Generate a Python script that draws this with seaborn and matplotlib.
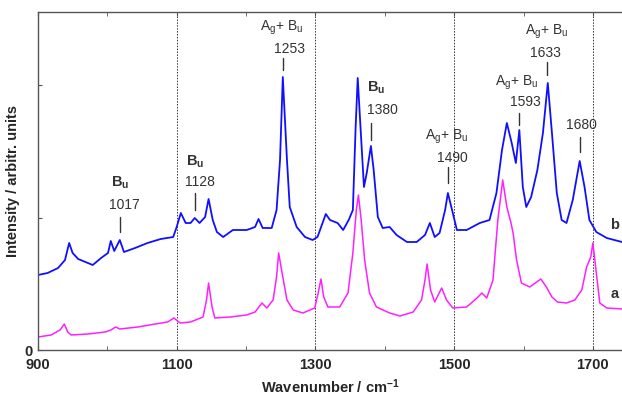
import matplotlib
matplotlib.use("Agg")
import matplotlib.pyplot as plt
import seaborn as sns
import pandas as pd
from matplotlib.ticker import MultipleLocator

# ---- data ----
wn_b = [900, 914, 929, 939, 945, 950, 958, 972, 979, 991, 1001, 1005, 1010, 1018, 1024,
        1040, 1058, 1077, 1095, 1100, 1106, 1113, 1120, 1126, 1133, 1141, 1146, 1152, 1158,
        1167, 1181, 1201, 1213, 1218, 1224, 1237, 1244, 1249, 1253, 1259, 1263, 1273, 1285,
        1296, 1303, 1315, 1321, 1332, 1340, 1348, 1354, 1358, 1361, 1365, 1370, 1374, 1380,
        1384, 1390, 1397, 1407, 1417, 1432, 1446, 1458, 1465, 1472, 1479, 1487, 1491, 1497,
        1504, 1518, 1537, 1551, 1561, 1569, 1576, 1583, 1589, 1594, 1599, 1604, 1611, 1620,
        1628, 1635, 1641, 1648, 1655, 1662, 1671, 1681, 1688, 1695, 1705, 1720, 1742]
int_b = [75, 77, 82, 90, 107, 97, 91, 87, 85, 92, 97, 109, 99, 110, 98,
         102, 107, 111, 113, 123, 137, 127, 127, 132, 127, 133, 151, 130, 118,
         113, 120, 120, 123, 131, 122, 122, 140, 190, 273, 190, 143, 123, 113,
         110, 113, 136, 130, 127, 120, 130, 140, 223, 272, 223, 163, 177, 204,
         180, 133, 122, 123, 115, 108, 108, 115, 127, 113, 117, 140, 157, 140,
         120, 120, 127, 130, 157, 200, 227, 207, 187, 220, 163, 143, 153, 180,
         217, 267, 217, 157, 130, 127, 150, 189, 163, 130, 118, 112, 108]

wn_a = [900, 919, 932, 938, 943, 948, 972, 997, 1005, 1012, 1018, 1044, 1069, 1087, 1096,
        1105, 1120, 1138, 1143, 1146, 1151, 1155, 1177, 1201, 1213, 1223, 1230, 1239, 1244,
        1247, 1253, 1259, 1268, 1282, 1299, 1304, 1308, 1312, 1318, 1335, 1347, 1354, 1359,
        1362, 1366, 1371, 1378, 1388, 1407, 1422, 1441, 1453, 1458, 1461, 1466, 1472, 1482,
        1489, 1498, 1518, 1533, 1540, 1547, 1556, 1563, 1570, 1576, 1582, 1585, 1590, 1597,
        1609, 1625, 1633, 1641, 1649, 1662, 1674, 1684, 1691, 1697, 1700, 1705, 1710, 1720, 1742]
int_a = [13, 15, 20, 26, 18, 15, 16, 18, 20, 23, 21, 23, 26, 28, 32,
         27, 28, 33, 50, 67, 43, 32, 33, 35, 38, 47, 42, 50, 73,
         97, 73, 50, 40, 37, 42, 57, 71, 53, 43, 43, 57, 97, 140,
         155, 130, 90, 57, 43, 37, 34, 38, 50, 70, 86, 60, 48, 62,
         50, 42, 43, 52, 57, 52, 70, 130, 170, 143, 127, 117, 90, 67,
         63, 71, 63, 53, 48, 47, 50, 60, 83, 93, 107, 77, 47, 42, 41]

# peak labels
peak_num = ["1017", "1128", "1253", "1380", "1490", "1593", "1633", "1680"]
peak_sym = ["Bu", "Bu", "AgBu", "Bu", "AgBu", "AgBu", "AgBu", ""]
series_labels = ["b", "a"]

x_ticks = [900, 1100, 1300, 1500, 1700]

# label placement (tick x, tick bottom, tick top, number x, number y, symbol x, symbol y)
label_pos = [
    (1018, 118, 133, 1025, 145, 1018, 167),
    (1126, 140, 157, 1133, 168, 1126, 188),
    (1254, 280, 292, 1262, 301, 1252, 322),
    (1380, 210, 227, 1397, 240, 1388, 262),
    (1491, 167, 183, 1498, 192, 1489, 213),
    (1594, 225, 237, 1602, 248, 1590, 267),
    (1634, 275, 288, 1632, 297, 1633, 318),
    (1681, 198, 213, 1684, 225, 1684, 0),
]
series_label_pos = [(1731, 125), (1731, 56)]

# ---- plot ----
sns.set_style("ticks")
plt.rcParams["font.family"] = ["Liberation Sans", "DejaVu Sans"]
plt.rcParams["mathtext.default"] = "regular"

fig = plt.figure(figsize=(6.22, 4.0), dpi=100)
ax = fig.add_axes([0.061, 0.125, 0.939, 0.845])

df_b = pd.DataFrame({"wn": wn_b, "I": int_b})
df_a = pd.DataFrame({"wn": wn_a, "I": int_a})
sns.lineplot(data=df_b, x="wn", y="I", color="#1010ff", lw=1.3, ax=ax)
sns.lineplot(data=df_a, x="wn", y="I", color="#ff20ff", lw=1.1, ax=ax)

ax.set_xlim(900, 1742)
ax.set_ylim(0, 338)
ax.set_xticks(x_ticks)
ax.set_xticklabels([str(t) for t in x_ticks], fontweight="bold", fontsize=10.5)
ax.xaxis.set_minor_locator(MultipleLocator(100))
ax.set_yticks([0, 132, 265])
ax.set_yticklabels(["0", "", ""], fontweight="bold", fontsize=10.5)
ax.tick_params(which="both", direction="in", top=True, right=False, length=3, color="#555555")
ax.tick_params(axis="x", pad=6)
ax.tick_params(axis="y", pad=4)
for s in ax.spines.values():
    s.set_color("#555555")
    s.set_linewidth(1.0)
ax.spines["right"].set_visible(False)

for t in x_ticks[1:]:
    ax.axvline(t, color="#333333", ls=(0, (1.5, 1.5)), lw=0.7, zorder=0)

ax.set_xlabel("Wavenumber / cm$^{-1}$", fontweight="bold", fontsize=10.5, labelpad=4)
ax.set_ylabel("Intensity / arbitr. units", fontweight="bold", fontsize=10.5, labelpad=3)

txtc = "#333333"
for num, sym, (tx, t0, t1, nx, ny, sx, sy) in zip(peak_num, peak_sym, label_pos):
    ax.plot([tx, tx], [t0, t1], color=txtc, lw=1.0)
    ax.text(nx, ny, num, ha="center", va="center", fontsize=10, color=txtc)
    if sym == "Bu":
        ax.text(sx, sy, "B$_u$", ha="center", va="center", fontsize=10.5,
                fontweight="bold", color=txtc)
    elif sym == "AgBu":
        ax.text(sx, sy, "A$_g$+ B$_u$", ha="center", va="center", fontsize=10, color=txtc)

for lab, (lx, ly) in zip(series_labels, series_label_pos):
    ax.text(lx, ly, lab, fontweight="bold", fontsize=10.5, color=txtc, ha="center", va="center")

fig.savefig("out.png", dpi=100)
